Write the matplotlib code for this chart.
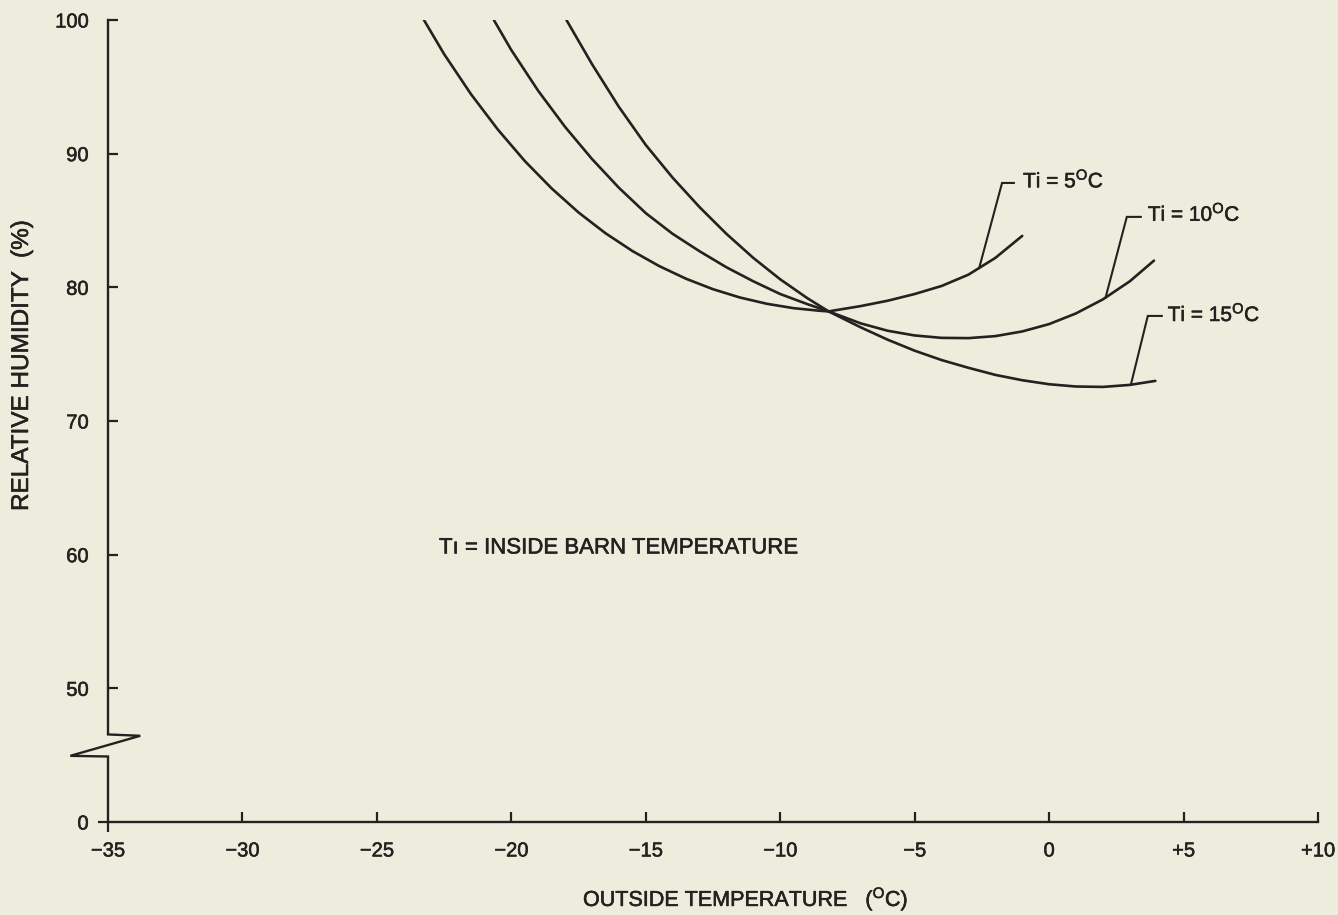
import matplotlib
matplotlib.use('Agg')
import matplotlib.pyplot as plt
import matplotlib.patheffects as pe
import numpy as np

plt.rcParams['font.family'] = ['Liberation Sans', 'DejaVu Sans']
plt.rcParams['mathtext.fontset'] = 'custom'
plt.rcParams['mathtext.rm'] = 'Liberation Sans'
plt.rcParams['mathtext.it'] = 'Liberation Sans'
plt.rcParams['mathtext.bf'] = 'Liberation Sans:bold'

# ---------------- data ----------------
# outside temperature (deg C) vs relative humidity (%)
t5_x = [-23.25, -22.5, -21.5, -20.5, -19.5, -18.5, -17.5, -16.5, -15.5, -14.5, -13.5,
        -12.5, -11.5, -10.5, -9.5, -8.5, -8.2, -7.0, -6.0, -5.0, -4.0, -3.0, -2.0, -1.0]
t5_y = [100.0, 97.45, 94.45, 91.8, 89.45, 87.4, 85.6, 84.05, 82.72, 81.59, 80.64,
        79.86, 79.24, 78.77, 78.44, 78.24, 78.2, 78.6, 79.0, 79.5, 80.1, 80.95, 82.2, 83.85]

t10_x = [-20.65, -20.0, -19.0, -18.0, -17.0, -16.0, -15.0, -14.0, -13.0, -12.0, -11.0,
         -10.0, -9.0, -8.2, -7.0, -6.0, -5.0, -4.0, -3.0, -2.0, -1.0, 0.0, 1.0, 2.0, 3.0, 3.9]
t10_y = [100.0, 97.75, 94.7, 92.0, 89.6, 87.45, 85.55, 84.0, 82.7, 81.5, 80.45,
         79.5, 78.75, 78.2, 77.3, 76.75, 76.4, 76.22, 76.2, 76.35, 76.7, 77.25, 78.05, 79.1, 80.45, 82.0]

t15_x = [-17.95, -17.0, -16.0, -15.0, -14.0, -13.0, -12.0, -11.0, -10.0, -9.0, -8.2,
         -7.0, -6.0, -5.0, -4.0, -3.0, -2.0, -1.0, 0.0, 1.0, 2.0, 3.0, 3.95]
t15_y = [100.0, 96.7, 93.5, 90.65, 88.2, 86.0, 84.0, 82.2, 80.6, 79.2, 78.2,
         77.0, 76.08, 75.26, 74.56, 73.98, 73.45, 73.05, 72.75, 72.58, 72.55, 72.7, 73.0]

series_labels = ['Ti = 5$^{\\mathrm{O}}$C', 'Ti = 10$^{\\mathrm{O}}$C', 'Ti = 15$^{\\mathrm{O}}$C']

x_ticks = [-30, -25, -20, -15, -10, -5, 0, 5, 10]
x_tick_labels = ['\u221230', '\u221225', '\u221220', '\u221215', '\u221210', '\u22125', '0', '+5', '+10']
x_origin = [-35]
x_origin_label = ['\u221235']
y_ticks = [50, 60, 70, 80, 90, 100]
y_tick_labels = ['50', '60', '70', '80', '90', '100']
y_origin = [40]            # axis is broken: bottom of axis is labelled 0
y_origin_label = ['0']

# ---------------- style ----------------
BG = '#EDEDDD'
INK = '#262020'
W, H = 1338, 915
heavy = [pe.withStroke(linewidth=0.4, foreground=INK)]

fig = plt.figure(figsize=(W / 100, H / 100), dpi=100, facecolor=BG)
ax = fig.add_axes([108 / W, 1 - 822 / H, 1210 / W, 802 / H])
ax.set_facecolor(BG)
ax.set_xlim(-35, 10)
ax.set_ylim(40, 100)

for xs, ys in [(t5_x, t5_y), (t10_x, t10_y), (t15_x, t15_y)]:
    ax.plot(xs, ys, color=INK, lw=1.9, solid_joinstyle='round', solid_capstyle='round')

# spines
for s in ['top', 'right', 'left']:
    ax.spines[s].set_visible(False)
ax.spines['bottom'].set_color(INK)
ax.spines['bottom'].set_linewidth(1.7)

# broken y axis drawn by hand
kw = dict(color=INK, lw=1.7, clip_on=False, solid_joinstyle='miter')
ax.plot([-35, -35, -33.8, -36.4, -35, -35], [100, 46.55, 46.45, 44.95, 44.9, 40], **kw)

# ticks
ax.set_xticks(x_ticks)
ax.set_xticklabels(x_tick_labels)
ax.set_xticks(x_origin, minor=True)
ax.set_xticklabels(x_origin_label, minor=True)
ax.set_yticks(y_ticks)
ax.set_yticklabels(y_tick_labels)
ax.set_yticks(y_origin, minor=True)
ax.set_yticklabels(y_origin_label, minor=True)

ax.tick_params(axis='both', which='major', direction='in', length=7.5, width=1.6,
               colors=INK, labelsize=14.5, pad=14)
ax.tick_params(axis='both', which='minor', direction='out', length=7.5, width=1.6,
               colors=INK, labelsize=14.5, pad=14 - 7.5)
for lab in (ax.get_xticklabels(which='both') + ax.get_yticklabels(which='both')):
    lab.set_path_effects(heavy)

# curve labels with leader lines
label_anchor_x = [-2.6, 2.1, 3.04]
curves = [(t5_x, t5_y), (t10_x, t10_y), (t15_x, t15_y)]
elbows = [(-1.75, 87.81, -1.31), (2.89, 85.27, 3.41), (3.67, 77.86, 4.19)]
text_pos = [(-0.97, 88.0), (3.67, 85.5), (4.41, 78.0)]
for (cx, cy), a_x, (ex, ey, hx), (tx, ty), lab in zip(curves, label_anchor_x, elbows, text_pos, series_labels):
    ay = float(np.interp(a_x, cx, cy))
    ax.plot([a_x, ex, hx], [ay, ey, ey], color=INK, lw=1.5, solid_joinstyle='miter', clip_on=False)
    ax.text(tx, ty, lab, fontsize=15, color=INK, ha='left', va='center', path_effects=heavy)

# note
fig.text(439 / W, 1 - 548 / H, 'T\u0131 = INSIDE BARN TEMPERATURE', fontsize=16,
         color=INK, ha='left', va='center', path_effects=heavy)

# axis titles
fig.text(583 / W, 1 - 899 / H, 'OUTSIDE TEMPERATURE   ($^{\\mathrm{O}}$C)', fontsize=15.5,
         color=INK, ha='left', va='center', path_effects=heavy)
fig.text(22 / W, 1 - 366 / H, 'RELATIVE HUMIDITY  (%)', fontsize=17.5, color=INK,
         rotation=90, ha='center', va='center', path_effects=heavy)

fig.savefig('out.png', dpi=100, facecolor=BG)
